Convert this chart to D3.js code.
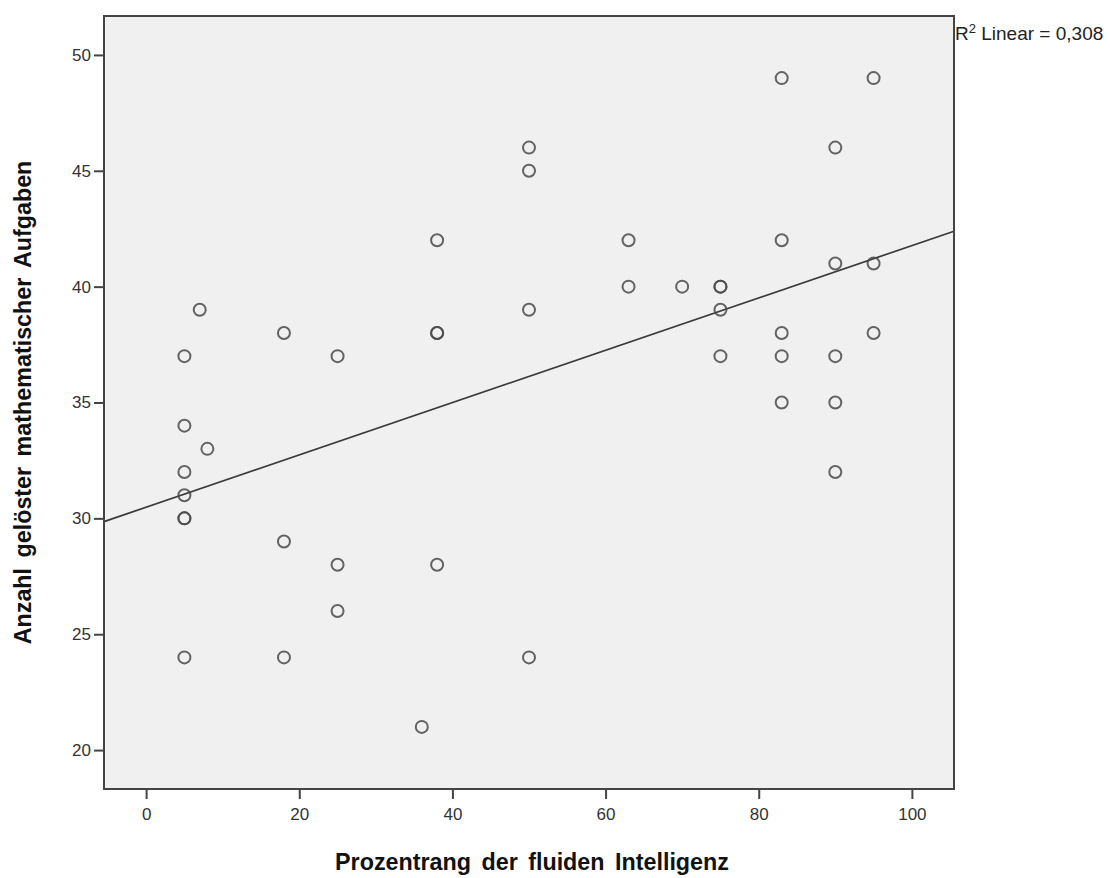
<!DOCTYPE html>
<html>
<head>
<meta charset="utf-8">
<script src="https://cdn.jsdelivr.net/npm/d3@7"></script>
<style>
  html, body { margin: 0; padding: 0; background: #ffffff; }
  svg { display: block; font-family: Arial, "Liberation Sans", sans-serif; }
</style>
</head>
<body>
<svg id="chart" width="1110" height="878"></svg>
<script>
// Prozentrang (x) und Anzahl gelöster Aufgaben (y), je Person ein Wertepaar
const prozentrang = [
  5, 5, 5, 5, 5, 5, 5, 7, 8,
  18, 18, 18,
  25, 25, 25,
  36,
  38, 38, 38, 38,
  50, 50, 50, 50,
  63, 63,
  70,
  75, 75, 75, 75,
  83, 83, 83, 83, 83,
  90, 90, 90, 90, 90,
  95, 95, 95
];
const aufgaben = [
  37, 34, 32, 31, 30, 30, 24, 39, 33,
  38, 29, 24,
  37, 28, 26,
  21,
  42, 38, 38, 28,
  46, 45, 39, 24,
  42, 40,
  40,
  40, 40, 39, 37,
  49, 42, 38, 37, 35,
  46, 41, 37, 35, 32,
  49, 41, 38
];
const xTicks = [0, 20, 40, 60, 80, 100];
const yTicks = [20, 25, 30, 35, 40, 45, 50];
const xTitle = "Prozentrang der fluiden Intelligenz";
const yTitle = "Anzahl gelöster mathematischer Aufgaben";
const r2Text = "0,308";

const svg = d3.select("#chart");
const plot = { left: 104, top: 16, right: 954, bottom: 789 };

const x = d3.scaleLinear().domain([-5.5, 105.5]).range([plot.left, plot.right]);
const y = d3.scaleLinear().domain([18.32, 51.68]).range([plot.bottom, plot.top]);

// Plot area
svg.append("rect")
  .attr("x", plot.left).attr("y", plot.top)
  .attr("width", plot.right - plot.left).attr("height", plot.bottom - plot.top)
  .attr("fill", "#f0f0f0");

// Least-squares fit line
const n = prozentrang.length;
const mx = d3.mean(prozentrang), my = d3.mean(aufgaben);
let sxy = 0, sxx = 0;
for (let i = 0; i < n; i++) {
  sxy += (prozentrang[i] - mx) * (aufgaben[i] - my);
  sxx += (prozentrang[i] - mx) ** 2;
}
const slope = sxy / sxx, intercept = my - slope * mx;
const [x0, x1] = x.domain();
svg.append("line")
  .attr("x1", x(x0)).attr("y1", y(intercept + slope * x0))
  .attr("x2", x(x1)).attr("y2", y(intercept + slope * x1))
  .attr("stroke", "#3a3a3a").attr("stroke-width", 1.7);

// Points
svg.append("g").selectAll("circle")
  .data(d3.range(n))
  .join("circle")
  .attr("cx", i => x(prozentrang[i]))
  .attr("cy", i => y(aufgaben[i]))
  .attr("r", 6)
  .attr("fill", "none")
  .attr("stroke", "#4a4a4a")
  .attr("stroke-opacity", 0.85)
  .attr("stroke-width", 2);

// Frame
svg.append("rect")
  .attr("x", plot.left).attr("y", plot.top)
  .attr("width", plot.right - plot.left).attr("height", plot.bottom - plot.top)
  .attr("fill", "none").attr("stroke", "#444").attr("stroke-width", 2);

// Axes
const xAxis = svg.append("g")
  .attr("transform", `translate(0,${plot.bottom})`)
  .call(d3.axisBottom(x).tickValues(xTicks).tickSize(10).tickPadding(9).tickFormat(d3.format("d")));
const yAxis = svg.append("g")
  .attr("transform", `translate(${plot.left},0)`)
  .call(d3.axisLeft(y).tickValues(yTicks).tickSize(10).tickPadding(3).tickFormat(d3.format("d")));
[xAxis, yAxis].forEach(g => {
  g.select(".domain").remove();
  g.selectAll(".tick line").attr("stroke", "#444").attr("stroke-width", 2);
  g.selectAll(".tick text")
    .attr("fill", "#333")
    .style("font-size", "17px")
    .style("font-family", "Arial, 'Liberation Sans', sans-serif");
});

// Axis titles
svg.append("text")
  .attr("x", (plot.left + plot.right) / 2 + 3)
  .attr("y", 870)
  .attr("text-anchor", "middle")
  .attr("fill", "#111")
  .style("font-weight", "bold")
  .style("font-size", "23.3px")
  .style("word-spacing", "4px")
  .text(xTitle);

svg.append("text")
  .attr("transform", `translate(31,${(plot.top + plot.bottom) / 2}) rotate(-90)`)
  .attr("text-anchor", "middle")
  .attr("fill", "#111")
  .style("font-weight", "bold")
  .style("font-size", "23.3px")
  .style("word-spacing", "4px")
  .text(yTitle);

// R² annotation
const r2 = svg.append("text")
  .attr("x", plot.right + 1).attr("y", 40)
  .attr("fill", "#222")
  .style("font-size", "19px");
r2.append("tspan").text("R");
r2.append("tspan").attr("dy", -7).style("font-size", "13px").text("2");
r2.append("tspan").attr("dy", 7).text(" Linear = " + r2Text);
</script>
</body>
</html>
